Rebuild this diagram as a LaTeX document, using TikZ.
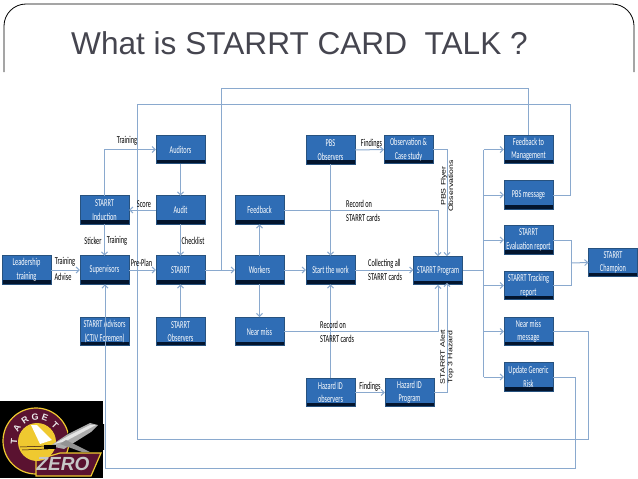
\documentclass[tikz,border=0pt]{standalone}
\usepackage{fontspec}
\usetikzlibrary{arrows.meta}
\setmainfont{Liberation Sans}
\newfontfamily\boxfont[FakeStretch=0.6]{Carlito}
\newfontfamily\widefont[FakeStretch=1.35]{Liberation Sans}
\definecolor{boxblue}{HTML}{2F6DB5}
\definecolor{boxedge}{HTML}{27527F}
\definecolor{boxdark}{HTML}{03152E}
\definecolor{linkblue}{HTML}{8AA9CE}
\definecolor{titlegray}{HTML}{45454F}
\definecolor{logomaroon}{HTML}{5A1230}
\definecolor{logoyellow}{HTML}{EFC930}
\tikzset{
  x=1pt,y=-1pt,
  box/.style={rectangle,draw=boxedge,line width=0.9pt,fill=boxblue,minimum width=49pt,minimum height=28.5pt,
    inner sep=0pt,outer sep=0pt,text=white,align=center,font=\boxfont\fontsize{10.5}{13.5}\selectfont,
    path picture={\fill[boxdark] ([yshift=4pt]path picture bounding box.south west) rectangle (path picture bounding box.south east);}},
  link/.style={draw=linkblue,line width=1pt},
  arrowlink/.style={link,-{Straight Barb[length=3.2pt,width=6pt]}},
  lbl/.style={text=black,inner sep=0pt,align=left,font=\boxfont\fontsize{10.5}{14}\selectfont},
  vlbl/.style={text=black,inner sep=0pt,rotate=90,font=\widefont\fontsize{6.5}{7.5}\selectfont},
  logoletter/.style={text=gray!15,inner sep=0pt,font=\bfseries\fontsize{9}{9}\selectfont},
}
\begin{document}
\begin{tikzpicture}
\useasboundingbox (0,0) rectangle (638,479);
% slide frame and title
\draw[black,line width=0.8pt,rounded corners=22pt] (4,72) -- (4,4) -- (634,4) -- (634,72);
\node[anchor=base west,inner sep=0pt,text=titlegray,font=\fontsize{31.6}{33}\selectfont] (title) at (71,54) {What is STARRT CARD\ \ TALK ?};
% free corner coordinates
\coordinate (busA) at (483.5,270.5);
\coordinate (topL) at (221,88);
\coordinate (topS) at (221,270);
\coordinate (midL) at (137,104);
\coordinate (midR) at (570,104);
\coordinate (lowL) at (137,439);
\coordinate (lowR) at (588,439);
\coordinate (botL) at (105,468);
\coordinate (botR) at (575,468);
\coordinate (obsv) at (447,149.5);
\coordinate (hazv) at (447,392.5);
\coordinate (cbus) at (571,263);
% boxes
\node[box] (lead) at (26.5,270) {Leadership\\training};
\node[box] (sup) at (104.5,270) {Supervisors};
\node[box] (start) at (180.5,270) {STARRT};
\node[box] (work) at (259.5,270) {Workers};
\node[box] (swork) at (330.5,270) {Start the work};
\node[box] (prog) at (438,270.5) {STARRT Program};
\node[box] (audit) at (180.5,210) {Audit};
\node[box] (aud) at (180.5,149.5) {Auditors};
\node[box] (ind) at (104.5,210) {STARRT\\Induction};
\node[box] (fb) at (259.5,210) {Feedback};
\node[box] (pbs) at (330.5,150) {PBS\\Observers};
\node[box] (obs) at (408.5,149.5) {Observation \&\\Case study};
\node[box] (adv) at (104.5,331.5) {STARRT Advisors\\(CTJV Foremen)};
\node[box] (sobs) at (180.5,331.5) {STARRT\\Observers};
\node[box] (near) at (259.5,331.5) {Near miss};
\node[box] (hobs) at (330.5,392.5) {Hazard ID\\observers};
\node[box] (hprog) at (409.5,392.5) {Hazard ID\\Program};
\node[box] (mfb) at (528.5,149.5) {Feedback to\\Management};
\node[box] (mpbs) at (528.5,195) {PBS message};
\node[box] (meval) at (528.5,240) {STARRT\\Evaluation report};
\node[box] (mtrack) at (528.5,285.5) {STARRT Tracking\\report};
\node[box] (mnear) at (528.5,331.5) {Near miss\\message};
\node[box] (mupd) at (528.5,377) {Update Generic\\Risk};
\node[box] (champ) at (613,262.5) {STARRT\\Champion};
% connectors
\draw[arrowlink] (lead) -- (sup);
\draw[arrowlink] (sup) -- (start);
\draw[arrowlink] (start) -- (work);
\draw[arrowlink] (work) -- (swork);
\draw[arrowlink] (swork.east) -- (prog.west |- swork.east);
\draw[arrowlink] (aud) -- (audit);
\draw[arrowlink] (audit) -- (start);
\draw[arrowlink] (audit) -- (ind);
\draw[arrowlink] (ind) -- (sup);
\draw[arrowlink] (ind.north) |- (aud.west);
\draw[arrowlink] (work) -- (fb);
\draw[arrowlink] (work) -- (near);
\draw[arrowlink] (sobs) -- (start);
\draw[arrowlink] (pbs) -- (swork);
\draw[arrowlink] (hobs) -- (swork);
\draw[arrowlink] (pbs) -- (obs);
\draw[arrowlink] (hobs) -- (hprog);
\draw[arrowlink] (fb.east) -| (prog.north);
\draw[arrowlink] (near.east) -| (prog.south);
\draw[arrowlink] (obs.east) -- (obsv) -- (obsv |- prog.north);
\draw[arrowlink] (hprog.east) -- (hazv) -- ([yshift=2pt]hazv |- prog.south);
\draw[link] (prog.east) -- (busA);
\draw[link] (busA |- mfb.west) -- (busA |- mupd.west);
\foreach \m in {mfb,mpbs,meval,mtrack,mnear,mupd}
  \draw[arrowlink] (busA |- \m.west) -- (\m.west);
\draw[link] (meval.east) -| (cbus);
\draw[link] (mtrack.east) -| (cbus);
\draw[arrowlink] (cbus) -- (champ.west);
\draw[link] (topS) -- (topL) -| (mfb.north);
\draw[link] (mpbs.east) -| (midR) -- (midL) -- (lowL) -- (lowR) |- (mnear.east);
\draw[arrowlink] (mupd.east) -| (botR) -- (botL) -- (sup.south -| botL);
% labels
\node[lbl,anchor=center] (l1) at (127,141) {Training};
\node[lbl,anchor=center] (l2) at (144,204) {Score};
\node[lbl,anchor=center] (l3) at (93,241) {Sticker};
\node[lbl,anchor=center] (l4) at (117,241) {Training};
\node[lbl,anchor=center] (l5) at (193,241) {Checklist};
\node[lbl,anchor=center] (l6) at (65,262) {Training};
\node[lbl,anchor=center] (l7) at (63,277) {Advise};
\node[lbl,anchor=center] (l8) at (141.5,263) {Pre-Plan};
\node[lbl,anchor=west] (l9) at (346,211) {Record on\\STARRT cards};
\node[lbl,anchor=west] (l10) at (368,270) {Collecting all\\STARRT cards};
\node[lbl,anchor=west] (l11) at (320,332) {Record on\\STARRT cards};
\node[lbl,anchor=center] (l12) at (371.5,144) {Findings};
\node[lbl,anchor=center] (l13) at (370,387) {Findings};
\node[vlbl,align=center] (v1) at (447,186) {PBS Flyer\\Observations};
\node[vlbl,align=center] (v2) at (447,357) {STARRT Alert\\Top 3 Hazard};
% logo
\fill[black] (0,401) rectangle (103,478);
\fill[logomaroon,draw=logoyellow,line width=1.2pt] (36,441) circle[radius=33];
\fill[black] (71,428) -- (60,446) -- (104,450) -- (104,424) -- cycle;
\fill[logomaroon,draw=logoyellow,line width=1.2pt] (60,453) -- (101,453) -- (91,476) -- (36,476) -- (36,460) -- cycle;
\fill[logoyellow] (37,442) circle[radius=19];
\foreach \ch/\px/\py/\ang in {T/14/441/85,A/17/428/58,R/25/420/35,G/35/417/5,E/45/418/-20,T/55/425/-45}
  \node[logoletter,rotate=\ang] at (\px,\py) {\ch};
% plane
\fill[white] (31,425) -- (37,425) -- (52,440) -- (40,444) -- cycle;
\fill[gray!65] (50,446) -- (68,434) -- (90,423) -- (98,425) -- (91,432) -- (64,449) -- cycle;
\fill[gray!20] (54,444) -- (70,435) -- (90,425) -- (96,425) -- (66,441) -- cycle;
\fill[gray!85] (66,440) -- (90,452) -- (82,452) -- (60,444) -- cycle;
\fill[black] (44,445) rectangle (56,449);
\draw[black!60!logomaroon,line width=0.5pt] (20,447) -- (48,446) (22,450) -- (48,449);
\node[text=gray!45,inner sep=0pt,font=\bfseries\itshape\fontsize{19}{19}\selectfont] (zero) at (63,464) {ZERO};
\end{tikzpicture}
\end{document}
